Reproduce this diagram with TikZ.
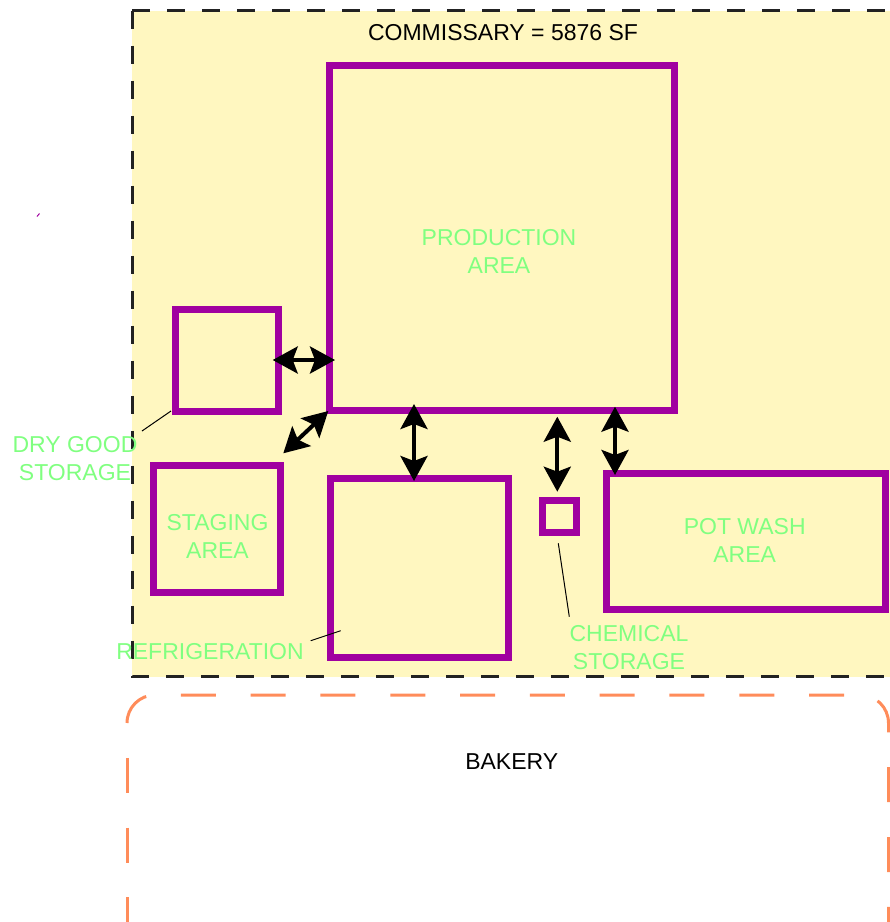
\documentclass[tikz,border=0pt]{standalone}
\usepackage{fontspec}
\setmainfont{Liberation Sans}
\usetikzlibrary{arrows.meta,calc}
\definecolor{commfill}{RGB}{255,247,192}
\definecolor{roomline}{RGB}{160,0,160}
\definecolor{labelgreen}{RGB}{128,255,128}
\definecolor{bakeryline}{RGB}{255,140,90}
\definecolor{dashgray}{RGB}{34,34,34}
\begin{document}
\begin{tikzpicture}[x=1pt,y=-1pt,
  room/.style={draw=roomline, line width=7pt, rectangle, inner sep=0pt, outer sep=0pt},
  lbl/.style={text=labelgreen, font=\fontsize{23}{28}\selectfont, align=center, inner sep=0pt},
  ttl/.style={text=black, font=\fontsize{23}{28}\selectfont, inner sep=0pt},
  dbl/.style={line width=4pt, {Stealth[length=25pt,width=27pt,inset=5pt]}-{Stealth[length=25pt,width=27pt,inset=5pt]}},
  leader/.style={line width=1pt, draw=black},
  commline/.style={dashgray, line width=3pt, dash pattern=on 18pt off 17pt},
  bakline/.style={bakeryline, line width=3pt, dash pattern=on 35pt off 34.8pt}
]
\useasboundingbox (0,0) rectangle (890,922);
\clip (0,0) rectangle (890,922);

% commissary zone
\fill[commfill] (132.3,10.7) rectangle (900,676.7);
\draw[commline] (132.3,10.7) -- (900,10.7);
\draw[commline] (132.3,10.7) -- (132.3,676.7) -- (900,676.7);
\node[ttl] (title) at (503,33) {COMMISSARY = 5876 SF};

% tiny stray mark
\draw[roomline, line width=1pt] (37,216.5) -- (39.5,213.5);

% rooms
\node[room, minimum width=345pt, minimum height=345pt] (prod) at (501.5,237.5) {};
\node[room, minimum width=103pt, minimum height=102pt] (dry) at (226.5,360) {};
\node[room, minimum width=127pt, minimum height=127pt] (stag) at (216.5,528.5) {};
\node[room, minimum width=178pt, minimum height=179pt] (refr) at (419,567.5) {};
\node[room, minimum width=34pt, minimum height=32pt] (chem) at (559,516) {};
\node[room, minimum width=279pt, minimum height=136pt] (pot) at (745.5,541) {};

% labels
\node[lbl] (prodlbl) at (499,251.4) {PRODUCTION\\AREA};
\node[lbl] (drylbl) at (75,458.3) {DRY GOOD\\STORAGE};
\node[lbl] (staglbl) at (217.5,536) {STAGING\\AREA};
\node[lbl] (refrlbl) at (210,651.7) {REFRIGERATION};
\node[lbl] (potlbl) at (744.7,540.8) {POT WASH\\AREA};
\node[lbl] (chemlbl) at (629,647.8) {CHEMICAL\\STORAGE};

% leader lines
\coordinate (dryend) at (142,431);
\coordinate (refend) at (310.7,640.7);
\coordinate (chemend) at (569.3,616.7);
\draw[leader] (dryend) -- ($(dry.south west)+(-4,0)$);
\draw[leader] (refend) -- ($(refr.west)+(10.7,63.2)$);
\draw[leader] ($(chem.south)+(-0.7,11.3)$) -- (chemend);

% arrows
\draw[dbl, shorten <=-5.3pt, shorten >=-6pt] (dry.east) -- (dry.east -| prod.west);
\draw[dbl] ($(stag.north east)+(3.3,-11.7)$) -- ($(prod.south west)+(-0.7,1)$);
\draw[dbl] ($(prod.south west)+(85,-6)$) -- ($(refr.north west)+(84,3)$);
\draw[dbl] ($(chem.north)+(-1.7,-8.3)$) -- ($(chem.north |- prod.south)+(-1.7,6.7)$);
\draw[dbl] ($(pot.north west)+(9,2)$) -- ($(pot.north west |- prod.south)+(9,-3.3)$);

% bakery
\draw[bakline, rounded corners=28pt] (127,723) -- (127,695) -- (888.5,695) -- (888.5,960);
\draw[bakline, dash phase=35pt] (127,723) -- (127,960);
\node[ttl] (bakery) at (511.7,761.3) {BAKERY};
\end{tikzpicture}
\end{document}
